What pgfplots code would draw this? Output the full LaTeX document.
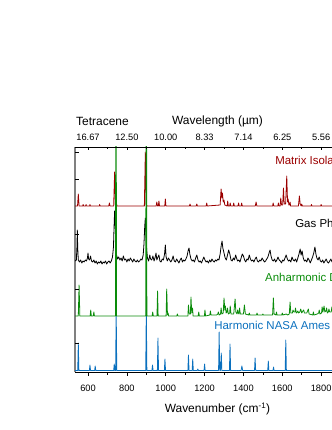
\documentclass[border=0pt]{standalone}
\usepackage{fontspec}
\setmainfont{Liberation Sans}
\usepackage{pgfplots}
\pgfplotsset{compat=1.18}

\definecolor{mred}{RGB}{155,0,0}
\definecolor{mgreen}{RGB}{10,140,10}
\definecolor{mblue}{RGB}{10,112,190}

% heights are in the axis' own units (0..225), spectra stacked by offsets
\pgfplotstableread{
x y
533 111
540 112
543 125
545 142
547 124
550 112
556 110
562 112
568 109
574 111
580 110
586 112
592 111
597 114
600 119
603 113
608 112
613 116
618 111
624 110
630 112
636 109
642 111
648 108
654 110
660 109
666 111
672 108
678 110
684 109
690 111
696 108
702 110
708 111
714 109
720 111
726 115
731 125
734 145
737 161
740 150
743 128
747 117
752 113
758 115
764 112
770 114
776 111
782 116
788 112
794 113
800 110
806 113
812 111
818 114
824 112
830 110
836 113
842 111
848 110
854 112
860 110
866 111
872 113
878 112
884 117
888 128
892 146
895 154
898 140
902 122
906 114
912 111
918 117
922 113
928 112
934 116
940 111
946 115
950 119
954 112
960 115
965 117
970 111
976 110
982 113
988 112
994 118
998 127
1002 115
1008 111
1014 114
1020 112
1026 110
1032 112
1038 116
1044 111
1050 110
1056 113
1062 111
1068 109
1074 112
1080 114
1086 110
1092 112
1098 111
1104 113
1110 116
1116 122
1120 124
1124 118
1130 113
1136 111
1142 112
1148 110
1154 114
1160 117
1166 112
1172 110
1178 111
1184 109
1190 112
1196 115
1202 112
1208 110
1214 111
1220 109
1226 112
1232 110
1238 113
1244 111
1250 110
1256 112
1262 111
1268 113
1274 112
1280 118
1286 127
1290 131
1294 124
1300 119
1306 114
1312 112
1318 117
1324 122
1330 118
1336 112
1342 111
1348 114
1354 112
1360 117
1366 113
1370 111
1376 112
1382 110
1388 114
1394 118
1400 116
1406 112
1412 110
1418 113
1424 112
1430 117
1436 113
1442 111
1448 112
1454 110
1460 113
1466 115
1472 111
1478 110
1484 112
1490 111
1496 114
1502 112
1508 110
1514 111
1520 113
1526 115
1532 119
1537 122
1542 116
1548 112
1554 111
1560 113
1566 110
1572 112
1578 115
1584 112
1590 111
1596 109
1602 112
1608 111
1614 114
1620 117
1626 113
1632 111
1638 112
1644 110
1650 115
1656 112
1662 111
1668 113
1674 110
1680 114
1686 118
1692 123
1697 117
1702 121
1708 114
1714 111
1720 112
1726 110
1732 114
1738 112
1744 109
1750 112
1756 115
1762 119
1768 125
1773 118
1778 114
1784 112
1790 115
1796 111
1802 110
1808 112
1814 109
1820 111
1826 113
1832 110
1838 109
1844 111
1850 113
1856 110
1862 111
1870 110
1880 112
}\gas

\begin{document}
\begin{tikzpicture}[x=1bp,y=1bp]
\path[use as bounding box] (0,0) rectangle (332,430);
\clip (0,0) rectangle (332,430);

\begin{axis}[
  at={(75bp,58bp)}, anchor=south west,
  scale only axis, width=285bp, height=225bp,
  xmin=533, xmax=2000, ymin=0, ymax=225,
  axis x line*=bottom, axis y line*=left,
  axis line style={-},
  x axis line style={black, line width=0.8bp},
  y axis line style={gray, line width=1.5bp},
  tick align=outside,
  xtick={600,800,1000,1200,1400,1600,1800,2000},
  xticklabels={600,800,1000,1200,1400,1600,1800,2000},
  minor x tick num=1,
  ytick=\empty,
  major tick length=3.5bp, minor tick length=2.5bp,
  tick style={black, line width=0.6bp},
  xticklabel style={font=\fontsize{9.3}{11}\selectfont, yshift=-6bp},
  xlabel={Wavenumber (cm\textsuperscript{-1})},
  xlabel style={font=\fontsize{12}{14}\selectfont, at={(axis description cs:0.5,0)}, anchor=center, yshift=-37bp},
  every axis plot/.append style={no markers, line width=0.8bp, line join=round},
]
\addplot[mblue] coordinates {
(533,1.5)(547,1.5)(550,29)(553,1.5)(607,1.5)(610,7)(613,1.5)(634,1.5)(637,6)(640,1.5)
(732,1.5)(735,8)(738,1.5)(742,1.5)(745,62)(748,1.5)(897,1.5)(900,62)(903,1.5)
(929,1.5)(932,7)(935,1.5)(957,1.5)(960,34)(963,1.5)(993,1.5)(996,13)(999,1.5)
(1114,1.5)(1117,17)(1120,1.5)(1136,1.5)(1139,13)(1142,1.5)(1162,1.5)(1165,3)(1168,1.5)
(1197,1.5)(1200,8)(1203,1.5)(1272,1.5)(1275,40)(1278,1.5)(1282,1.5)(1286,19)(1289,1.5)
(1328,1.5)(1331,28)(1334,1.5)(1388,1.5)(1392,6)(1396,1.5)(1457,1.5)(1460,14)(1463,1.5)
(1525,1.5)(1528,11)(1531,1.5)(1552,1.5)(1555,5)(1558,1.5)(1615,1.5)(1618,32)(1621,1.5)
(2000,1.5)};
\addplot[black] table[x=x,y=y] {\gas};
\addplot[mred] coordinates {
(533,166)(546,166)(550,178)(554,166)(573,166)(575,167.5)(577,166)(588,166)(590,167.5)(592,166)
(608,166)(610,167.5)(612,166)(658,166)(660,167.5)(662,166)(707,166)(710,169)(713,166)
(732,166)(737,200)(741,167)(745,170)(749,166)(890,166)(895,220)(899,168)(903,166)
(951,166)(954,170)(958,166)(962,166)(965,171)(968,166)(995,166)(998,173)(1001,166)
(1122,166)(1125,168)(1128,166)(1157,166)(1160,168)(1163,166)(1208,166)(1211,169)(1214,166)
(1280,167)(1285,183)(1289,174)(1292,179)(1296,170)(1300,172)(1304,167)(1316,166)(1319,171)(1322,166)
(1329,166)(1332,169)(1335,166)(1347,166)(1350,169)(1353,166)(1372,166)(1375,169)(1378,166)
(1388,166)(1391,169)(1394,166)(1461,166)(1465,170)(1469,166)(1550,166)(1553,169)(1556,166)
(1577,166)(1580,169)(1583,166)(1589,166)(1592,174)(1596,167)(1602,167)(1606,184)(1610,168)
(1617,168)(1623,196)(1627,170)(1630,173)(1634,167)(1637,167)(1640,170)(1643,166)
(1683,166)(1688,176)(1692,168)(1697,166)(1700,168)(1703,166)(1748,166)(1750,167.5)(1752,166)
(1798,166)(1800,167.5)(1802,166)(2000,166)};
\addplot[mgreen] coordinates {
(533,56)(550,56)(554,87)(558,56)(611,56)(614,62)(617,56)(627,56)(630,60)(633,56)
(741,56)(744,400)(747,56)(897,56)(900,400)(903,56)(930,56)(933,60)(936,56)
(955,56)(958,81)(961,56)(1002,56)(1005,83)(1009,57)(1012,59)(1015,56)(1057,56)(1060,58)(1063,56)
(1114,56)(1117,67)(1121,58)(1127,58)(1130,75)(1134,59)(1138,64)(1141,56)(1167,56)(1170,60)(1173,56)
(1199,56)(1202,62)(1205,56)(1227,57)(1230,61)(1233,57)(1262,57)(1268,58)(1271,60)(1275,57)
(1282,58)(1285,64)(1289,58)(1296,59)(1300,74)(1304,62)(1307,66)(1311,59)(1315,60)(1318,64)(1322,58)
(1329,59)(1332,66)(1336,58)(1350,58)(1357,73)(1361,60)(1367,58)(1370,62)(1374,59)(1377,58)(1380,64)(1384,58)
(1400,58)(1405,67)(1410,58)(1427,57)(1430,59)(1433,57)(1467,57)(1470,59)(1473,57)(1497,57)(1500,58)(1503,57)
(1550,57)(1554,74)(1558,58)(1567,57)(1570,60)(1573,57)(1597,57)(1600,59)(1603,57)(1620,58)(1628,57)
(1636,58)(1640,70)(1644,59)(1652,59)(1655,62)(1659,60)(1665,60)(1668,64)(1672,59)(1677,60)(1680,61)(1684,59)
(1690,60)(1695,63)(1700,59)(1706,61)(1710,62)(1714,59)(1726,59)(1734,63)(1738,58)(1757,57)(1760,60)(1763,57)
(1780,58)(1787,59)(1790,62)(1794,58)(1802,59)(1805,65)(1809,60)(1812,63)(1815,66)(1819,60)
(1825,61)(1828,64)(1832,59)(1837,60)(1840,63)(1844,60)(1852,60)(1855,65)(1859,60)(1870,58)(2000,56)};

\node[anchor=west, inner sep=0, text=mred, font=\fontsize{11.5}{13}\selectfont] at (axis cs:1563,211.3) {Matrix Isolation};
\node[anchor=west, inner sep=0, text=black, font=\fontsize{11.5}{13}\selectfont] at (axis cs:1666,149) {Gas Phase};
\node[anchor=west, inner sep=0, text=mgreen, font=\fontsize{11.5}{13}\selectfont] at (axis cs:1511,94.3) {Anharmonic DFT};
\node[anchor=west, inner sep=0, text=mblue, font=\fontsize{11.5}{13}\selectfont] at (axis cs:1249,46.3) {Harmonic NASA Ames PAHdb};
\end{axis}

\begin{axis}[
  at={(75bp,58bp)}, anchor=south west,
  scale only axis, width=285bp, height=225bp,
  xmin=533, xmax=2000, ymin=0, ymax=225,
  axis x line*=top, axis y line*=left,
  axis line style={-},
  x axis line style={black, line width=0.8bp},
  y axis line style={draw=none},
  tick align=inside,
  xtick={600,800,1000,1200,1400,1600,1800,2000},
  xticklabels={16.67,12.50,10.00,8.33,7.14,6.25,5.56,5.00},
  minor x tick num=1,
  ytick={29,83,138,193,220},
  yticklabels={},
  major tick length=3.5bp, minor tick length=2.5bp,
  tick style={black, line width=0.6bp},
  xticklabel style={font=\fontsize{9.3}{11}\selectfont, yshift=2.5bp},
  xlabel={Wavelength (µm)},
  xlabel style={font=\fontsize{12}{14}\selectfont, at={(axis description cs:0.5,1)}, anchor=center, yshift=26bp},
]
\end{axis}
\node[anchor=west, inner sep=0, font=\fontsize{12}{14}\selectfont] at (76,309) {Tetracene};
\end{tikzpicture}
\end{document}
